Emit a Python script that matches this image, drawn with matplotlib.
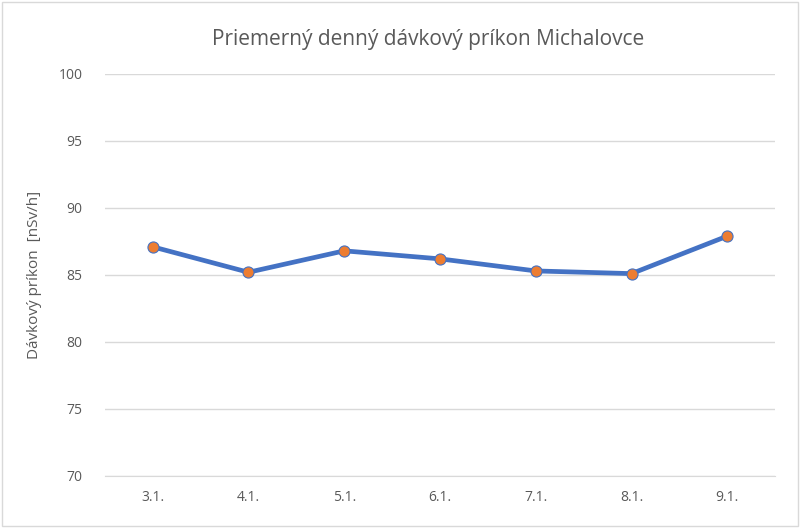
import matplotlib
matplotlib.use("Agg")
import matplotlib.pyplot as plt
from matplotlib.patches import Rectangle

categories = ["3.1.", "4.1.", "5.1.", "6.1.", "7.1.", "8.1.", "9.1."]
values = [87.1, 85.2, 86.8, 86.2, 85.3, 85.1, 87.9]
yticks = [70, 75, 80, 85, 90, 95, 100]

plt.rcParams['font.family'] = ['Open Sans', 'DejaVu Sans']
txt = '#595959'

fig = plt.figure(figsize=(8, 5.28), dpi=100)
ax = fig.add_axes([0.131, 0.0985, 0.838, 0.7615])

x = list(range(len(categories)))
ax.plot(x, values, color='#4472C4', linewidth=3.4, marker='o', markersize=8,
        markerfacecolor='#ED7D31', markeredgecolor='#4472C4', markeredgewidth=0.8,
        solid_capstyle='round', zorder=3)

ax.set_xlim(-0.5, len(categories) - 0.5)
ax.set_ylim(70, 100)
ax.set_yticks(yticks)
ax.set_xticks(x)
ax.set_xticklabels(categories)
ax.grid(axis='y', color='#D9D9D9', linewidth=1)
ax.set_axisbelow(True)
for s in ['top', 'right', 'left']:
    ax.spines[s].set_visible(False)
ax.spines['bottom'].set_color('#D9D9D9')
ax.tick_params(axis='both', length=0, labelsize=10, colors=txt, pad=10)
ax.tick_params(axis='y', pad=16)

ax.set_ylabel("Dávkový príkon  [nSv/h]", fontsize=11, color=txt, labelpad=12)
fig.text(0.535, 0.925, "Priemerný denný dávkový príkon Michalovce", ha='center', va='center',
         fontsize=15, color=txt)

fig.patches.append(Rectangle((0.002, 0.003), 0.996, 0.994, transform=fig.transFigure,
                             fill=False, edgecolor='#D9D9D9', linewidth=1))

fig.savefig("out.png", dpi=100)
